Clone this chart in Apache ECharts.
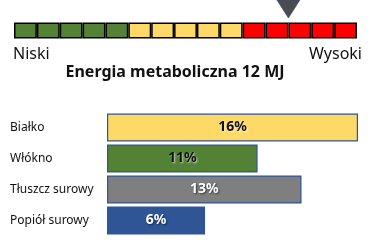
<!DOCTYPE html>
<html><head><meta charset="utf-8">
<script src="https://cdn.jsdelivr.net/npm/echarts@6/dist/echarts.min.js"></script>
<style>html,body{margin:0;padding:0;background:#fff}#c{width:375px;height:241px}</style>
</head><body><div id="c"></div>
<script>
// Gauge
const gaugeCells = ['g','g','g','g','g','y','y','y','y','y','r','r','r','r','r'];
const gaugeMax = 15;
const energyValue = 12;
const gaugeLow = 'Niski';
const gaugeHigh = 'Wysoki';
const gaugeTitle = 'Energia metaboliczna 12 MJ';
// Bars
const categories = ['Białko', 'Włókno', 'Tłuszcz surowy', 'Popiół surowy'];
const barLengths = [16, 9.6, 12.4, 6.25];
const barLabels = ['16%', '11%', '13%', '6%'];

const cellColor = {g:'#548235', y:'#ffd966', r:'#ff0000'};
const barColors = ['#ffd966', '#548235', '#7f7f7f', '#2f5597'];
const labelColors = ['#111111', '#111111', '#ffffff', '#ffffff'];
const FONT = 'Noto Sans';

const chart = echarts.init(document.getElementById('c'), null, {renderer:'canvas'});
chart.setOption({
  animation:false,
  textStyle:{fontFamily:FONT},
  grid:[
    {left:14, top:0, width:343, height:18},
    {left:14, top:22.5, width:343, height:16},
    {left:107, top:112, width:251, height:124}
  ],
  xAxis:[
    {gridIndex:0, type:'value', min:0, max:gaugeMax, show:false},
    {gridIndex:1, type:'category', data:gaugeCells.map((c,i)=>i), show:false},
    {gridIndex:2, type:'value', min:0, max:16, show:false}
  ],
  yAxis:[
    {gridIndex:0, type:'value', min:0, max:1, show:false},
    {gridIndex:1, type:'value', min:0, max:1, show:false},
    {gridIndex:2, type:'category', data:categories, inverse:true,
     axisLine:{show:false}, axisTick:{show:false}, splitLine:{show:false},
     axisLabel:{align:'left', margin:97, fontSize:12, color:'#111', fontFamily:FONT, padding:[0,0,6,0]}}
  ],
  series:[
    {type:'scatter', xAxisIndex:0, yAxisIndex:0, data:[[energyValue,0.5]],
     symbol:'path://M0,0 L20,0 L10,16 Z', symbolSize:[23,18],
     itemStyle:{color:'#1e1e24', borderColor:'#2f4f80', borderWidth:0.8}, clip:false},
    {type:'bar', xAxisIndex:1, yAxisIndex:1, barWidth:'100%',
     data:gaugeCells.map(c=>({value:1, itemStyle:{color:cellColor[c]}})),
     itemStyle:{borderColor:'#000', borderWidth:1.5}},
    {type:'bar', xAxisIndex:2, yAxisIndex:2, barWidth:28,
     data:barLengths.map((v,i)=>({value:v,
        itemStyle:{color:barColors[i], borderColor:'#2f5597', borderWidth:1.2},
        label:{show:true, position:'inside', formatter:barLabels[i], color:labelColors[i],
          fontWeight:'bold', fontSize:14, fontFamily:FONT,
          textShadowColor: i<2 ? 'rgba(255,255,255,0.7)' : 'rgba(0,0,0,0.6)', textShadowBlur:2, textShadowOffsetX:1, textShadowOffsetY:1}}))}
  ],
  graphic:[
    {type:'text', left:13, top:46, style:{text:gaugeLow, fontSize:16, fontFamily:FONT, fill:'#111'}},
    {type:'text', right:13, top:46, style:{text:gaugeHigh, fontSize:16, fontFamily:FONT, fill:'#111'}},
    {type:'text', x:175, y:72, style:{text:gaugeTitle, fontSize:16, fontWeight:'bold', fontFamily:FONT, fill:'#111', align:'center', verticalAlign:'middle'}}
  ]
});
</script></body></html>
